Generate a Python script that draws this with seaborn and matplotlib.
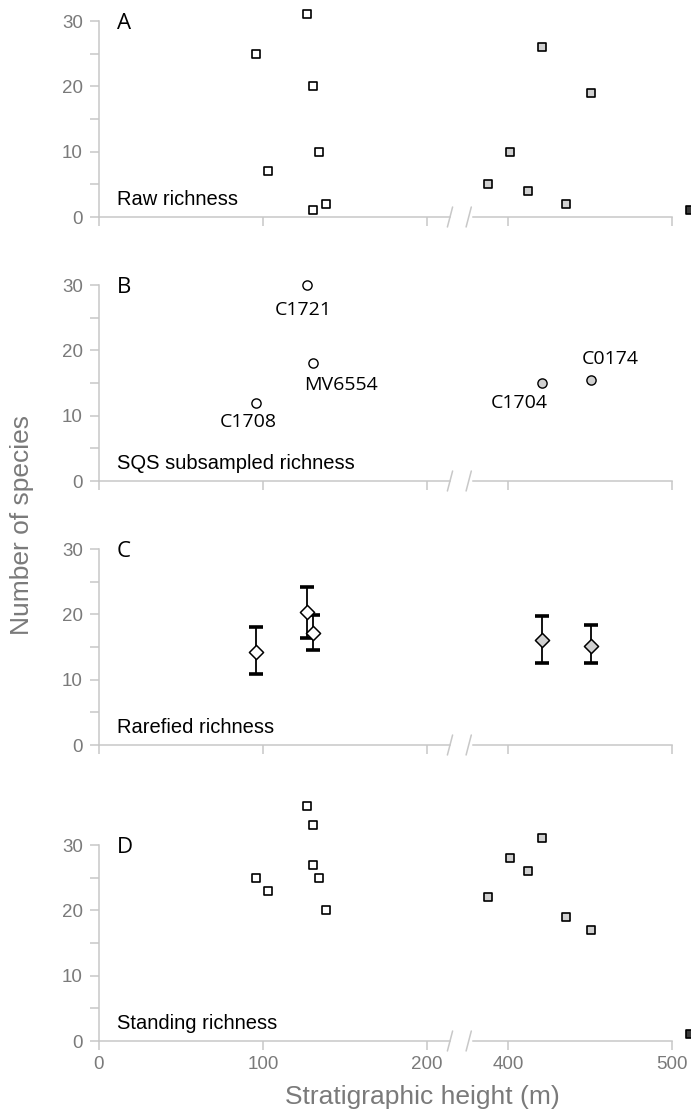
import matplotlib
matplotlib.use("Agg")
import matplotlib.pyplot as plt
import seaborn as sns

# Hauteurs stratigraphiques (m) des échantillons
haut_bas = [96, 103, 127, 130.5, 130.5, 134.5, 138.5]
haut_haut = [388, 401, 412, 421, 435.5, 450.5]
haut_hors = [511]

# A - richesse brute
brut_bas = [25, 7, 31, 20, 1, 10, 2]
brut_haut = [5, 10, 4, 26, 2, 19]
brut_hors = [1]

# B - richesse SQS
sqs_x_bas = [96, 127, 130.5]
sqs_bas = [12, 30, 18]
sqs_noms_bas = ["C1708", "C1721", "MV6554"]
sqs_x_haut = [421, 450.5]
sqs_haut = [15, 15.4]
sqs_noms_haut = ["C1704", "C0174"]

# C - richesse raréfiée (moyenne, min, max)
raref_x_bas = [96, 127, 130.5]
raref_bas = [14.3, 20.3, 17.2]
raref_bas_min = [10.8, 16.4, 14.6]
raref_bas_max = [18.0, 24.25, 19.9]
raref_x_haut = [421, 450.5]
raref_haut = [16.0, 15.2]
raref_haut_min = [12.5, 12.5]
raref_haut_max = [19.7, 18.3]

# D - richesse "standing"
stand_bas = [25, 23, 36, 33, 27, 25, 20]
stand_haut = [22, 28, 26, 31, 19, 17]
stand_hors = [1]

lettres = ["A", "B", "C", "D"]
titres = ["Raw richness", "SQS subsampled richness", "Rarefied richness", "Standing richness"]

sns.set_style("white")
plt.rcParams['font.family'] = ['Liberation Sans', 'DejaVu Sans']

GRIS_AXE = "#c8c8c8"
GRIS_TXT = "#7a7a7a"
GRIS_PT = "#d0d0d0"

W, H = 691, 1120
fig = plt.figure(figsize=(W / 100, H / 100), dpi=100)

bas_px = [217, 481, 745, 1041]
haut_px = 196
axes = []
for i, b in enumerate(bas_px):
    y0 = (H - b) / H
    h = haut_px / H
    axG = fig.add_axes([98.7 / W, y0, 351.3 / W, h])
    axD = fig.add_axes([472.7 / W, y0, 199.0 / W, h])
    axG.set_xlim(0, 214)
    axD.set_xlim(378.5, 500)
    for ax in (axG, axD):
        ax.set_ylim(0, 30)
        ax.patch.set_visible(False)
        for s in ["top", "right"]:
            ax.spines[s].set_visible(False)
        ax.spines["bottom"].set_color(GRIS_AXE)
        ax.spines["bottom"].set_linewidth(1.1)
        ax.tick_params(axis="both", which="both", direction="out", color=GRIS_AXE,
                       width=1.1, length=6.5, labelcolor=GRIS_TXT, labelsize=13.5)
    axG.spines["left"].set_color(GRIS_AXE)
    axG.spines["left"].set_linewidth(1.1)
    axD.spines["left"].set_visible(False)
    axD.set_yticks([])
    axG.set_yticks([0, 10, 20, 30])
    axG.set_yticks([5, 15, 25], minor=True)
    axG.tick_params(axis="y", which="both", left=True, pad=5)
    axG.set_xticks([0, 100, 200])
    axD.set_xticks([400, 500])
    axG.tick_params(axis="x", bottom=True, pad=4)
    axD.tick_params(axis="x", bottom=True, pad=4)
    if i < 3:
        axG.set_xticklabels([])
        axD.set_xticklabels([])

    # marques de coupure de l'axe
    dx, dy = 2.6, 10.0
    axG.plot([1 - dx / 351.3, 1 + dx / 351.3], [-dy / haut_px, dy / haut_px],
             transform=axG.transAxes, color=GRIS_AXE, lw=1.1, clip_on=False)
    axD.plot([-dx / 199.0 - 4.0 / 199.0, dx / 199.0 - 4.0 / 199.0], [-dy / haut_px, dy / haut_px],
             transform=axD.transAxes, color=GRIS_AXE, lw=1.1, clip_on=False)

    axG.text(11, 28.8, lettres[i], fontsize=16, family=["Open Sans", "DejaVu Sans"],
             ha="left", va="baseline", color="black")
    axG.text(11, 1.84, titres[i], fontsize=14.5, ha="left", va="baseline", color="black")
    axes.append((axG, axD))

carre = dict(marker="s", s=40, edgecolor="black", linewidth=1.2, clip_on=False, zorder=3)

# A
axG, axD = axes[0]
sns.scatterplot(x=haut_bas, y=brut_bas, ax=axG, color="white", **carre)
sns.scatterplot(x=haut_haut, y=brut_haut, ax=axD, color=GRIS_PT, **carre)
sns.scatterplot(x=haut_hors, y=brut_hors, ax=axD, color="#3a3a3a", **carre)

# B
axG, axD = axes[1]
rond = dict(marker="o", s=44, edgecolor="black", linewidth=1.0, clip_on=False, zorder=3)
sns.scatterplot(x=sqs_x_bas, y=sqs_bas, ax=axG, color="white", **rond)
sns.scatterplot(x=sqs_x_haut, y=sqs_haut, ax=axD, color=GRIS_PT, **rond)
decal = {"C1708": (-6, -14), "C1721": (-2.5, -18), "MV6554": (20, -15.5),
         "C1704": (-16.5, -14.5), "C0174": (14, 15.5)}
for ax, xs, ys, noms in [(axG, sqs_x_bas, sqs_bas, sqs_noms_bas),
                         (axD, sqs_x_haut, sqs_haut, sqs_noms_haut)]:
    for x, y, n in zip(xs, ys, noms):
        ax.annotate(n, (x, y), xytext=decal[n], textcoords="offset points",
                    ha="center", va="center", fontsize=14,
                    family=["Open Sans", "DejaVu Sans"], color="black")

# C
axG, axD = axes[2]
losange = dict(marker="D", s=52, edgecolor="black", linewidth=1.1, clip_on=False, zorder=4)
for ax, xs, ys, lo, hi, coul in [(axG, raref_x_bas, raref_bas, raref_bas_min, raref_bas_max, "white"),
                                 (axD, raref_x_haut, raref_haut, raref_haut_min, raref_haut_max, GRIS_PT)]:
    err = [[y - l for y, l in zip(ys, lo)], [h_ - y for y, h_ in zip(ys, hi)]]
    ax.errorbar(xs, ys, yerr=err, fmt="none", ecolor="black", elinewidth=1.3,
                capsize=4.8, capthick=2.6, zorder=2)
    sns.scatterplot(x=xs, y=ys, ax=ax, color=coul, **losange)

# D
axG, axD = axes[3]
sns.scatterplot(x=haut_bas, y=stand_bas, ax=axG, color="white", **carre)
sns.scatterplot(x=haut_haut, y=stand_haut, ax=axD, color=GRIS_PT, **carre)
sns.scatterplot(x=haut_hors, y=stand_hors, ax=axD, color="#3a3a3a", **carre)

for axG, axD in axes:
    for ax in (axG, axD):
        ax.set_xlabel("")
        ax.set_ylabel("")

fig.text(22 / W, 1 - 525 / H, "Number of species", rotation=90, ha="center", va="center",
         fontsize=19, color=GRIS_TXT)
fig.text(422 / W, 1 - 1097 / H, "Stratigraphic height (m)", ha="center", va="center",
         fontsize=19, color=GRIS_TXT)

fig.savefig("out.png", dpi=100)
